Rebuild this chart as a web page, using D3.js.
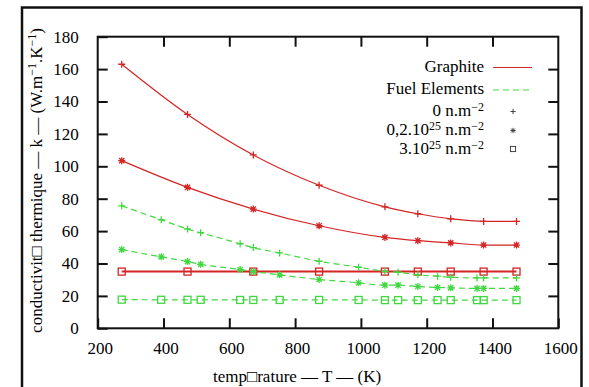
<!DOCTYPE html>
<html>
<head>
<meta charset="utf-8">
<script src="https://cdn.jsdelivr.net/npm/d3@7"></script>
<style>
  body { margin: 0; background: #fff; }
  svg text { font-family: "Liberation Serif", "DejaVu Serif", serif; fill: #000; }
</style>
</head>
<body>
<div class="graph"></div>
<script>
const w = 589;
const h = 387;
const margin = {top: 36.7, right: 30.7, bottom: 58.7, left: 97.7};
const red = "#d42424";
const green = "#40d840";

// data
const tGraphite = [273, 473, 673, 873, 1073, 1173, 1273, 1373, 1473];
const kGraphite0 = [163, 132, 107, 88.3, 75, 70.7, 67.6, 66, 66];
const kGraphite02 = [103.5, 87, 73.6, 63.3, 56.1, 54.1, 52.7, 51.4, 51.4];
const kGraphite3 = [35, 35, 35, 35, 35, 35, 35, 35, 35];
const tFuel = [273, 393, 473, 513, 633, 673, 753, 873, 993, 1073, 1113, 1173, 1233, 1273, 1353, 1373, 1473];
const kFuel0 = [75.6, 67, 61.3, 59, 52.2, 49.8, 46.5, 41.4, 37.7, 35.2, 34.6, 33, 32.2, 31.5, 31.1, 31.1, 31.1];
const kFuel02 = [48.6, 44.1, 41.2, 39.5, 36.3, 35, 33, 30.1, 28.1, 26.6, 26.6, 25.8, 25.2, 25, 24.6, 24.6, 24.6];
const kFuel3 = [17.7, 17.6, 17.6, 17.6, 17.5, 17.5, 17.5, 17.5, 17.5, 17.4, 17.4, 17.4, 17.4, 17.4, 17.4, 17.4, 17.4];
const xTicks = [200, 400, 600, 800, 1000, 1200, 1400, 1600];
const yTicks = [0, 20, 40, 60, 80, 100, 120, 140, 160, 180];

const series = [
  {t: tGraphite, k: kGraphite0, color: red, dash: null, mark: "plus"},
  {t: tGraphite, k: kGraphite02, color: red, dash: null, mark: "star"},
  {t: tGraphite, k: kGraphite3, color: red, dash: null, mark: "square"},
  {t: tFuel, k: kFuel0, color: green, dash: "6,4", mark: "plus"},
  {t: tFuel, k: kFuel02, color: green, dash: "6,4", mark: "star"},
  {t: tFuel, k: kFuel3, color: green, dash: "6,4", mark: "square"}
];

const svg = d3.select(".graph").append("svg")
  .attr("width", w)
  .attr("height", h);

// outer frame (bottom edge is cut off)
svg.append("path")
  .attr("d", `M22,${h} V7.5 H581.5 V${h}`)
  .attr("fill", "none")
  .attr("stroke", "#111")
  .attr("stroke-width", 2.5);

const x = d3.scaleLinear().domain([200, 1600]).range([margin.left, w - margin.right]);
const y = d3.scaleLinear().domain([0, 180]).range([h - margin.bottom, margin.top]);

// axes with inward ticks on all four sides
const axisStyle = g => {
  g.attr("font-family", "Liberation Serif, serif").attr("font-size", 17);
  g.select(".domain").remove();
  g.selectAll(".tick line").attr("stroke", "#111").attr("stroke-width", 2);
  g.selectAll(".tick text").attr("fill", "#000");
};
const fmt = d3.format("d");

svg.append("g")
  .attr("transform", `translate(0,${y(0)})`)
  .call(d3.axisBottom(x).tickValues(xTicks).tickFormat(fmt).tickSizeInner(-10).tickSizeOuter(0).tickPadding(14))
  .call(axisStyle)
  .call(g => g.selectAll(".tick text").attr("dx", 2));

svg.append("g")
  .attr("transform", `translate(0,${y(180)})`)
  .call(d3.axisTop(x).tickValues(xTicks.slice(1, -1)).tickSizeInner(-10).tickSizeOuter(0).tickFormat(""))
  .call(axisStyle);

svg.append("g")
  .attr("transform", `translate(${x(200)},0)`)
  .call(d3.axisLeft(y).tickValues(yTicks).tickFormat(fmt).tickSizeInner(-10).tickSizeOuter(0).tickPadding(19))
  .call(axisStyle);

svg.append("g")
  .attr("transform", `translate(${x(1600)},0)`)
  .call(d3.axisRight(y).tickValues(yTicks.slice(1, -1)).tickSizeInner(-10).tickSizeOuter(0).tickFormat(""))
  .call(axisStyle);

svg.append("rect")
  .attr("x", x(200)).attr("y", y(180))
  .attr("width", x(1600) - x(200)).attr("height", y(0) - y(180))
  .attr("fill", "none").attr("stroke", "#111").attr("stroke-width", 2);

// markers
function marker(g, type, cx, cy, color, s, sw) {
  if (type === "plus") {
    g.append("path").attr("d", `M${cx - s},${cy}H${cx + s}M${cx},${cy - s}V${cy + s}`)
      .attr("stroke", color).attr("stroke-width", sw).attr("fill", "none");
  } else if (type === "star") {
    const d = s * 0.75;
    g.append("path").attr("d", `M${cx - s},${cy}H${cx + s}M${cx},${cy - s}V${cy + s}` +
      `M${cx - d},${cy - d}L${cx + d},${cy + d}M${cx - d},${cy + d}L${cx + d},${cy - d}`)
      .attr("stroke", color).attr("stroke-width", sw).attr("fill", "none");
  } else {
    g.append("rect").attr("x", cx - s).attr("y", cy - s).attr("width", 2 * s).attr("height", 2 * s)
      .attr("stroke", color).attr("stroke-width", sw).attr("fill", "none");
  }
}

const line = d3.line().curve(d3.curveMonotoneX);
const plot = svg.append("g");

series.forEach(s => {
  const pts = s.t.map((t, i) => [x(t), y(s.k[i])]);
  plot.append("path")
    .attr("d", line(pts))
    .attr("fill", "none")
    .attr("stroke", s.color)
    .attr("stroke-width", s.mark === "square" && s.color === red ? 2 : 1.2)
    .attr("stroke-dasharray", s.dash);
  const mg = plot.append("g");
  pts.forEach(p => marker(mg, s.mark, p[0], p[1], s.color, 3.5, 1.3));
});

// legend
const legend = svg.append("g").style("font-size", "17px");
const lx = 484;

legend.append("text").attr("x", lx).attr("y", 71.5).attr("text-anchor", "end").text("Graphite");
legend.append("line").attr("x1", 493).attr("x2", 532).attr("y1", 67.5).attr("y2", 67.5)
  .attr("stroke", red).attr("stroke-width", 1.2);

legend.append("text").attr("x", lx).attr("y", 93.5).attr("text-anchor", "end").text("Fuel Elements");
legend.append("line").attr("x1", 493).attr("x2", 532).attr("y1", 90).attr("y2", 90)
  .attr("stroke", green).attr("stroke-width", 1.2).attr("stroke-dasharray", "6,4");

const legendRows = [
  {y: 116, parts: [["0 n.m", false], ["\u22122", true]], mark: "plus"},
  {y: 135, parts: [["0,2.10", false], ["25", true], [" n.m", false], ["\u22122", true]], mark: "star"},
  {y: 153.5, parts: [["3.10", false], ["25", true], [" n.m", false], ["\u22122", true]], mark: "square"}
];

legendRows.forEach(r => {
  const t = legend.append("text").attr("x", lx).attr("y", r.y).attr("text-anchor", "end");
  r.parts.forEach((p, i) => {
    t.append("tspan").text(p[0])
      .attr("dy", p[1] ? -5 : (i > 0 ? 5 : 0))
      .style("font-size", p[1] ? "12px" : "17px");
  });
  const mg = legend.append("g");
  marker(mg, r.mark, 513, r.y - 4.5, "#333", 2.6, 0.9);
});

// axis titles
svg.append("text")
  .attr("x", x(800) + 2)
  .attr("y", 382)
  .attr("text-anchor", "middle")
  .style("font-size", "17px")
  .text("temp\u25A1rature \u2014 T \u2014 (K)");

const yt = svg.append("text")
  .attr("transform", `translate(41.5,${(y(0) + y(180)) / 2 - 2}) rotate(-90)`)
  .attr("text-anchor", "middle")
  .style("font-size", "17px");
yt.append("tspan").text("conductivit\u25A1 thermique \u2014 k \u2014 (W.m");
yt.append("tspan").text("\u22121").attr("dy", -6).style("font-size", "12px");
yt.append("tspan").text(".K").attr("dy", 6);
yt.append("tspan").text("\u22121").attr("dy", -6).style("font-size", "12px");
yt.append("tspan").text(")").attr("dy", 6);
</script>
</body>
</html>
